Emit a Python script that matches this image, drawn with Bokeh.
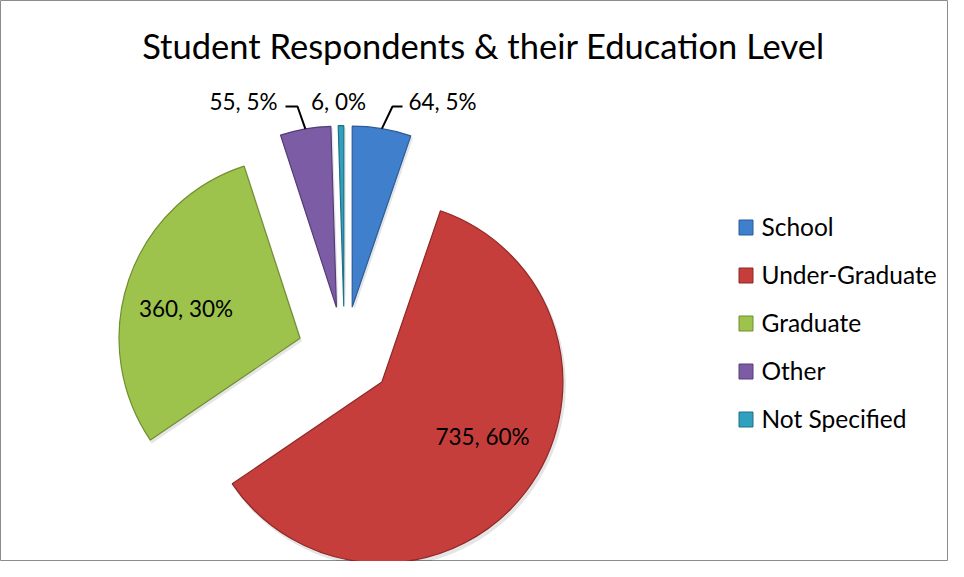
import numpy as np
from bokeh.plotting import figure
from bokeh.models import Range1d, ColumnDataSource
from bokeh.core.properties import value
from bokeh.embed import file_html
from bokeh.resources import INLINE

# ---------------- data ----------------
categories = ["School", "Under-Graduate", "Graduate", "Other", "Not Specified"]
counts = [64, 735, 360, 55, 6]
title_text = "Student Respondents & their Education Level"

# ---------------- styles ----------------
fill_colors = ["#3F7FCC", "#C53E3C", "#9DC34C", "#7D5CA6", "#2FA0BE"]
edge_colors = ["#2B5C99", "#8E2826", "#6F8F30", "#553C78", "#1F7186"]
FONT = "Lato"

W, H = 948, 561


def sx(X):               # reference-pixel -> data
    return X


def sy(Y):
    return H - Y


CX, CY = sx(344), sy(353)     # pie centre
R = 181                        # radius
EXPLODE = 47                   # explosion distance

total = float(sum(counts))
frac = np.array(counts) / total
theta_end = np.cumsum(frac) * 2 * np.pi          # clockwise from north
theta_start = theta_end - frac * 2 * np.pi
theta_mid = (theta_start + theta_end) / 2

xs = CX + EXPLODE * np.sin(theta_mid)
ys = CY + EXPLODE * np.cos(theta_mid)
start_angle = np.pi / 2 - theta_end
end_angle = np.pi / 2 - theta_start

pct = [int(f * 100 + 0.5) for f in frac]
labels = [f"{c}, {q}%" for c, q in zip(counts, pct)]

p = figure(width=W, height=H, x_range=Range1d(0, W), y_range=Range1d(0, H),
           output_backend="svg", toolbar_location=None, min_border=0,
           x_axis_location=None, y_axis_location=None)
p.grid.visible = False
p.outline_line_color = "#8C8C8C"
p.outline_line_width = 1
p.background_fill_color = "white"
p.border_fill_color = "white"

# soft shadow
p.wedge(x=xs + 2, y=ys - 3, radius=R + 1, start_angle=start_angle, end_angle=end_angle,
        fill_color="#000000", fill_alpha=0.10, line_color=None)

src = ColumnDataSource(dict(x=xs, y=ys, s=start_angle, e=end_angle,
                            fill=fill_colors, edge=edge_colors, cat=categories))
p.wedge(x="x", y="y", radius=R, start_angle="s", end_angle="e",
        fill_color="fill", line_color="edge", line_width=1.2, source=src)

# ---------------- data labels ----------------
lab_font = "22.5px"
LB = 9   # baseline correction
# inside labels (Under-Graduate, Graduate)
p.text(x=[sx(482), sx(185.5)], y=[sy(445 - LB), sy(317 - LB)], text=[labels[1], labels[2]],
       text_font=value(FONT), text_font_size=lab_font, text_color="black",
       text_align="center", text_baseline="alphabetic")
# top labels
p.text(x=[sx(408)], y=[sy(110 - LB)], text=[labels[0]], text_font=value(FONT),
       text_font_size=lab_font, text_align="left", text_baseline="alphabetic")
p.text(x=[sx(338)], y=[sy(110 - LB)], text=[labels[4]], text_font=value(FONT),
       text_font_size=lab_font, text_align="center", text_baseline="alphabetic")
p.text(x=[sx(277)], y=[sy(110 - LB)], text=[labels[3]], text_font=value(FONT),
       text_font_size=lab_font, text_align="right", text_baseline="alphabetic")

# leader lines (end on the outer arc mid-point of the slice)
for i, (x0, x1) in [(0, (sx(402), sx(392))), (3, (sx(285), sx(297)))]:
    ex = xs[i] + R * np.sin(theta_mid[i])
    ey = ys[i] + R * np.cos(theta_mid[i])
    p.line(x=[x0, x1, ex], y=[sy(106), sy(106), ey], line_color="black", line_width=2)

# ---------------- title ----------------
p.text(x=[sx(483)], y=[sy(57 - 12)], text=[title_text], text_font=value(FONT),
       text_font_size="34.5px", text_align="center", text_baseline="alphabetic",
       text_color="black")

# ---------------- legend ----------------
rows = np.arange(len(categories))
leg_y = sy(227) - 48 * rows
p.rect(x=sx(745.5), y=leg_y, width=14, height=15, fill_color=fill_colors,
       line_color=edge_colors, line_width=1)
p.text(x=sx(761), y=sy(236 - 10) - 48 * rows, text=categories, text_font=value(FONT),
       text_font_size="24.5px", text_align="left", text_baseline="alphabetic",
       text_color="black")

open("out.html", "w").write(file_html(p, INLINE))
